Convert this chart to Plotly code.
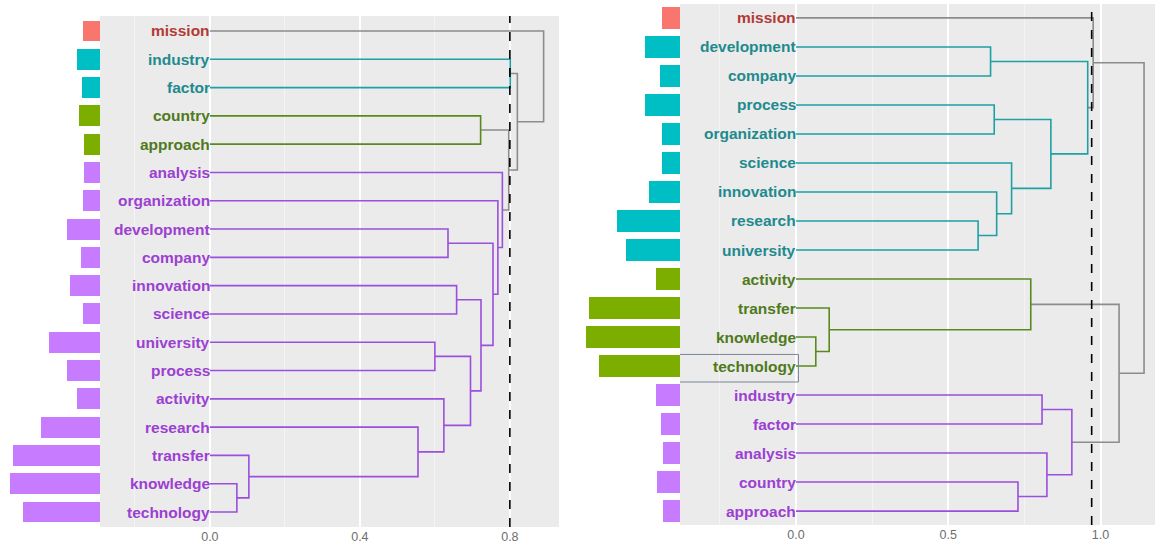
import plotly.graph_objects as go

W, H = 1155, 548

# ---------------- data ----------------
PALETTE = {"R": "#F8766D", "T": "#00BFC4", "G": "#7CAE00", "P": "#C77CFF", "gray": "#8C8C8C"}
TEXTCOL = {"R": "#B23A36", "T": "#1E8A8E", "G": "#4F7A1C", "P": "#9B40D2"}
LINECOL = {"T": "#1FA0A5", "G": "#5A8A1E", "P": "#9A4FDD", "gray": "#8C8C8C"}

left_leaves = ["mission", "industry", "factor", "country", "approach", "analysis",
               "organization", "development", "company", "innovation", "science",
               "university", "process", "activity", "research", "transfer",
               "knowledge", "technology"]
left_groups = ["R", "T", "T", "G", "G", "P", "P", "P", "P", "P", "P", "P", "P", "P",
               "P", "P", "P", "P"]
left_freq = [17, 23, 18, 21, 16, 16, 17, 33, 19, 30, 17, 51, 33, 23, 59, 87, 90, 77]
# merges: (child_a, child_b, height, colour-group)
left_merges = [
    ("knowledge", "technology", 0.072, "P"),
    ("transfer", 0, 0.104, "P"),
    ("research", 1, 0.555, "P"),
    ("activity", 2, 0.624, "P"),
    ("university", "process", 0.600, "P"),
    (4, 3, 0.695, "P"),
    ("innovation", "science", 0.658, "P"),
    (6, 5, 0.723, "P"),
    ("development", "company", 0.635, "P"),
    (8, 7, 0.755, "P"),
    ("organization", 9, 0.768, "P"),
    ("analysis", 10, 0.780, "P"),
    ("country", "approach", 0.722, "G"),
    (12, 11, 0.797, "gray"),
    ("industry", "factor", 0.801, "T"),
    (14, 13, 0.820, "gray"),
    ("mission", 15, 0.890, "gray"),
]
left_cut = 0.8

right_leaves = ["mission", "development", "company", "process", "organization", "science",
                "innovation", "research", "university", "activity", "transfer",
                "knowledge", "technology", "industry", "factor", "analysis", "country",
                "approach"]
right_groups = ["R", "T", "T", "T", "T", "T", "T", "T", "T", "G", "G", "G", "G",
                "P", "P", "P", "P", "P"]
right_freq = [18, 35, 20, 35, 18, 18, 31, 63, 54, 24, 91, 94, 81, 24, 19, 17, 23, 17]
right_merges = [
    ("development", "company", 0.639, "T"),
    ("process", "organization", 0.651, "T"),
    ("research", "university", 0.598, "T"),
    ("innovation", 2, 0.659, "T"),
    ("science", 3, 0.708, "T"),
    (1, 4, 0.837, "T"),
    (0, 5, 0.958, "T"),
    ("mission", 6, 0.976, "gray"),
    ("knowledge", "technology", 0.065, "G"),
    ("transfer", 8, 0.109, "G"),
    ("activity", 9, 0.771, "G"),
    ("industry", "factor", 0.808, "P"),
    ("country", "approach", 0.729, "P"),
    ("analysis", 12, 0.824, "P"),
    (11, 13, 0.906, "P"),
    (10, 14, 1.061, "gray"),
    (7, 15, 1.143, "gray"),
]
right_cut = 0.971
highlight_leaf = "technology"

# ---------------- layout geometry (pixels) ----------------
def px(x):
    return x / W

def py(y):
    return 1 - y / H

fig = go.Figure()


def dendro_segments(leaves, merges):
    ypos = {name: i for i, name in enumerate(leaves)}
    node = {}  # merge index -> (height, y)

    def info(c):
        if isinstance(c, int):
            return node[c]
        return (0.0, ypos[c])

    segs = {}
    for i, (a, b, h, col) in enumerate(merges):
        ha, ya = info(a)
        hb, yb = info(b)
        xs = [ha, h, h, hb]
        ys = [ya, ya, yb, yb]
        segs.setdefault(col, ([], []))
        segs[col][0].extend(xs + [None])
        segs[col][1].extend(ys + [None])
        node[i] = (h, (ya + yb) / 2)
    return segs


def add_panel(leaves, groups, freq, merges, xb, xd, ya):
    idx = list(range(len(leaves)))
    fig.add_trace(go.Bar(
        x=freq, y=idx, orientation="h", width=0.74,
        marker=dict(color=[PALETTE[g] for g in groups], line=dict(width=0)),
        xaxis=xb, yaxis=ya, showlegend=False, hoverinfo="skip"))
    segs = dendro_segments(leaves, merges)
    for col in ["gray", "G", "T", "P"]:
        if col in segs:
            fig.add_trace(go.Scatter(
                x=segs[col][0], y=segs[col][1], mode="lines",
                line=dict(color=LINECOL[col], width=1.6),
                xaxis=xd, yaxis=ya, showlegend=False, hoverinfo="skip"))
    for i, (name, g) in enumerate(zip(leaves, groups)):
        fig.add_annotation(
            x=0, y=i, xref=xd, yref=ya, text=name, showarrow=False,
            xanchor="right", yanchor="middle", borderpad=0, borderwidth=0,
            font=dict(family="Liberation Sans, Arial, sans-serif", size=15.5,
                      color=TEXTCOL[g], weight="bold"))


add_panel(left_leaves, left_groups, left_freq, left_merges, "x", "x2", "y")
add_panel(right_leaves, right_groups, right_freq, right_merges, "x3", "x4", "y2")

# grey panel backgrounds
for xd, ya in [("x2", "y"), ("x4", "y2")]:
    fig.add_shape(type="rect", xref=f"{xd} domain", yref=f"{ya} domain",
                  x0=0, x1=1, y0=0, y1=1, fillcolor="#EBEBEB",
                  line=dict(width=0), layer="below")

# cut lines
fig.add_shape(type="line", xref="x2", yref="y domain", x0=left_cut, x1=left_cut, y0=0, y1=1,
              line=dict(color="black", width=1.6, dash="dash"))
fig.add_shape(type="line", xref="x4", yref="y2 domain", x0=right_cut, x1=right_cut, y0=0, y1=1,
              line=dict(color="black", width=1.6, dash="dash"))

# highlight box around a leaf label on the right
hi = right_leaves.index(highlight_leaf)
fig.add_shape(type="rect", xref="x4", yref="y2", x0=-0.39, x1=0.008,
              y0=hi - 0.40, y1=hi + 0.55, line=dict(color="#7A8494", width=1),
              fillcolor="rgba(0,0,0,0)", layer="above")

tickfont = dict(family="Liberation Sans, Arial, sans-serif", size=12.5, color="#6E6E6E")
common_d = dict(showgrid=True, gridcolor="white", gridwidth=1.6, zeroline=False,
                showline=False, ticks="", tickfont=tickfont, fixedrange=True)
common_b = dict(visible=False, fixedrange=True)

fig.update_layout(
    width=W, height=H,
    margin=dict(l=0, r=0, t=0, b=0, autoexpand=False),
    paper_bgcolor="white", plot_bgcolor="rgba(0,0,0,0)",
    bargap=0,
    xaxis=dict(domain=[0, px(100)], range=[100, 0], anchor="y", **common_b),
    xaxis2=dict(domain=[px(100), px(559)], range=[-0.293, 0.931], anchor="y",
                tick0=0, dtick=0.4, tickformat=".1f",
                minor=dict(dtick=0.2, tick0=0, showgrid=True, gridcolor="#F4F4F4", gridwidth=1),
                **common_d),
    xaxis3=dict(domain=[px(580), px(680)], range=[100, 0], anchor="y2", **common_b),
    xaxis4=dict(domain=[px(680), 1], range=[-0.381, 1.179], anchor="y2",
                tick0=0, dtick=0.5, tickformat=".1f",
                minor=dict(dtick=0.25, tick0=0, showgrid=True, gridcolor="#F4F4F4", gridwidth=1),
                **common_d),
    yaxis=dict(domain=[py(527), py(16)], range=[17.53, -0.53], anchor="x2",
               visible=False, showgrid=False, fixedrange=True),
    yaxis2=dict(domain=[py(525), py(4)], range=[17.48, -0.48], anchor="x4",
                visible=False, showgrid=False, fixedrange=True),
)

fig.write_html("out.html", config={"displayModeBar": False},
               post_script="document.body.style.margin='0';document.body.style.overflow='hidden';")
